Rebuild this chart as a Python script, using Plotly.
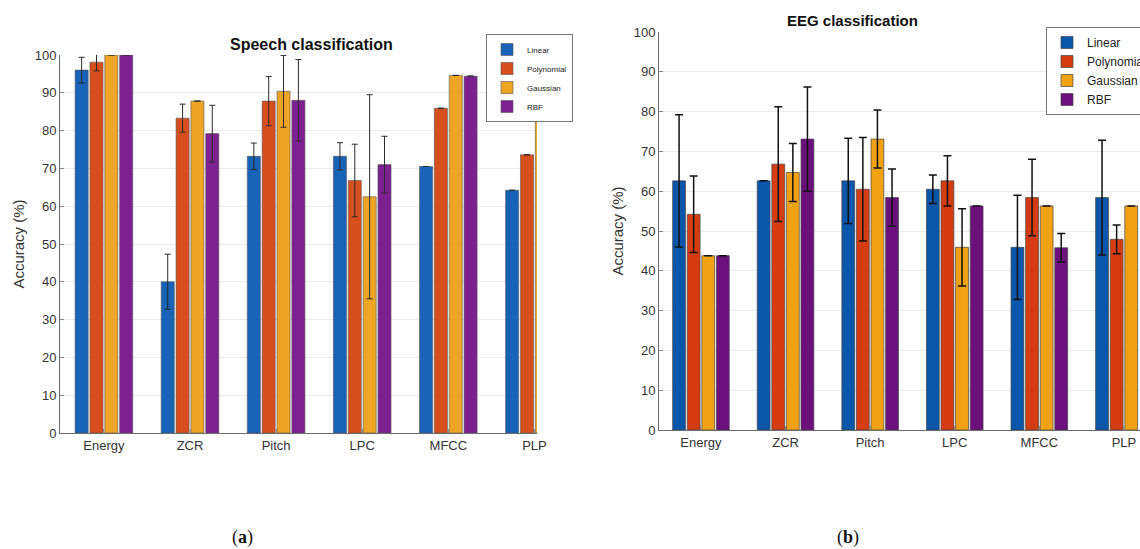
import plotly.graph_objects as go

categories = ["Energy", "ZCR", "Pitch", "LPC", "MFCC", "PLP"]
kernels = ["Linear", "Polynomial", "Gaussian", "RBF"]

# (a) Speech classification
speech_linear = [96.0, 40.0, 73.2, 73.2, 70.5, 64.2]
speech_linear_err = [3.4, 7.3, 3.5, 3.6, None, None]
speech_poly = [98.1, 83.3, 87.8, 66.8, 85.9, 73.6]
speech_poly_err = [2.3, 3.7, 6.5, 9.6, None, None]
speech_gauss = [100.0, 87.8, 90.4, 62.5, 94.6, 87.6]
speech_gauss_err = [0, 0, 9.5, 27.0, 0, None]
speech_rbf = [100.0, 79.2, 88.0, 71.0, 94.4, 87.6]
speech_rbf_err = [0, 7.5, 10.8, 7.5, 0, None]

# (b) EEG classification
eeg_linear = [62.6, 62.6, 62.6, 60.5, 45.9, 58.4]
eeg_linear_err = [16.6, None, 10.7, 3.6, 13.1, 14.4]
eeg_poly = [54.2, 66.8, 60.5, 62.6, 58.4, 47.9]
eeg_poly_err = [9.6, 14.4, 13.0, 6.3, 9.6, 3.6]
eeg_gauss = [43.8, 64.7, 73.1, 45.9, 56.3, 56.3]
eeg_gauss_err = [None, 7.3, 7.3, 9.7, None, None]
eeg_rbf = [43.8, 73.1, 58.4, 56.3, 45.8, None]
eeg_rbf_err = [None, 13.1, 7.2, None, 3.6, None]

y_ticks = list(range(0, 101, 10))

speech_colors = ["#1862b8", "#d84f1f", "#eea526", "#7d2190"]
eeg_colors = ["#0a56aa", "#d63c12", "#f0a214", "#6c107c"]

speech_series = [(speech_linear, speech_linear_err), (speech_poly, speech_poly_err),
                 (speech_gauss, speech_gauss_err), (speech_rbf, speech_rbf_err)]
eeg_series = [(eeg_linear, eeg_linear_err), (eeg_poly, eeg_poly_err),
              (eeg_gauss, eeg_gauss_err), (eeg_rbf, eeg_rbf_err)]

FONT = "Liberation Sans, Arial, sans-serif"
fig = go.Figure()

for name, (vals, errs), col in zip(kernels, speech_series, speech_colors):
    fig.add_trace(go.Bar(
        x=categories, y=vals, name=name, xaxis="x", yaxis="y", legend="legend",
        marker=dict(color=col, line=dict(color="#555555", width=0.6)),
        error_y=dict(type="data", array=errs, visible=True, color="#2a2a2a",
                     thickness=1, width=3),
    ))

for name, (vals, errs), col in zip(kernels, eeg_series, eeg_colors):
    fig.add_trace(go.Bar(
        x=categories, y=vals, name=name, xaxis="x2", yaxis="y2", legend="legend2",
        marker=dict(color=col, line=dict(color="#444444", width=0.7)),
        error_y=dict(type="data", array=errs, visible=True, color="#111111",
                     thickness=1.5, width=4),
    ))

W, H = 1140, 549

def px_x(p):
    return p / W

def px_y(p):
    return 1 - p / H

axis_common = dict(showline=True, linecolor="#6a6a6a", linewidth=1, automargin=False,
                   ticks="inside", ticklen=4, tickcolor="#8a8a8a",
                   tickfont=dict(family=FONT, size=13, color="#333333"))

fig.update_layout(
    template="none",
    width=W, height=H,
    margin=dict(l=0, r=0, t=0, b=0, autoexpand=False),
    paper_bgcolor="white", plot_bgcolor="white",
    barmode="group", bargap=0.31, bargroupgap=0.12,
    font=dict(family=FONT, color="#333333"),
    xaxis=dict(domain=[px_x(60), px_x(537)], anchor="y", type="category",
               range=[-0.51, 5.03], showgrid=False, **axis_common),
    yaxis=dict(domain=[px_y(433), px_y(55)], anchor="x", range=[0, 100],
               tickvals=y_ticks, showgrid=True, gridcolor="#ebebeb", gridwidth=1,
               zeroline=False,
               title=dict(text="Accuracy (%)", standoff=6,
                          font=dict(family=FONT, size=15, color="#333333")),
               **axis_common),
    xaxis2=dict(domain=[px_x(659), px_x(1140)], anchor="y2", type="category",
                range=[-0.496, 5.19], showgrid=False, **axis_common),
    yaxis2=dict(domain=[px_y(430), px_y(32)], anchor="x2", range=[0, 100],
                tickvals=y_ticks, showgrid=True, gridcolor="#ebebeb", gridwidth=1,
                zeroline=False,
                title=dict(text="Accuracy (%)", standoff=6,
                           font=dict(family=FONT, size=15, color="#333333")),
                **axis_common),
    legend=dict(x=px_x(486), y=px_y(34), xanchor="left", yanchor="top",
                bgcolor="white", bordercolor="#777777", borderwidth=1,
                font=dict(family=FONT, size=8, color="#222222"),
                tracegroupgap=0, itemwidth=30, traceorder="normal"),
    legend2=dict(x=px_x(1046), y=px_y(27), xanchor="left", yanchor="top",
                 bgcolor="white", bordercolor="#777777", borderwidth=1,
                 font=dict(family=FONT, size=12, color="#222222"),
                 tracegroupgap=0, itemwidth=30, traceorder="normal"),
    annotations=[
        dict(text="<b>Speech classification</b>", x=px_x(311), y=px_y(45),
             xref="paper", yref="paper", xanchor="center", yanchor="middle",
             showarrow=False, font=dict(family=FONT, size=16, color="#111111")),
        dict(text="<b>EEG classification</b>", x=px_x(852), y=px_y(20),
             xref="paper", yref="paper", xanchor="center", yanchor="middle",
             showarrow=False, font=dict(family=FONT, size=15, color="#111111")),
        dict(text="(<b>a</b>)", x=px_x(242), y=px_y(537),
             xref="paper", yref="paper", xanchor="center", yanchor="middle",
             showarrow=False,
             font=dict(family="Liberation Serif, DejaVu Serif, serif", size=18, color="#111111")),
        dict(text="(<b>b</b>)", x=px_x(848), y=px_y(537),
             xref="paper", yref="paper", xanchor="center", yanchor="middle",
             showarrow=False,
             font=dict(family="Liberation Serif, DejaVu Serif, serif", size=18, color="#111111")),
    ],
)

fig.write_html(
    "out.html",
    config={"displayModeBar": False},
    post_script="document.body.style.margin='0';document.body.style.overflow='hidden';",
)
